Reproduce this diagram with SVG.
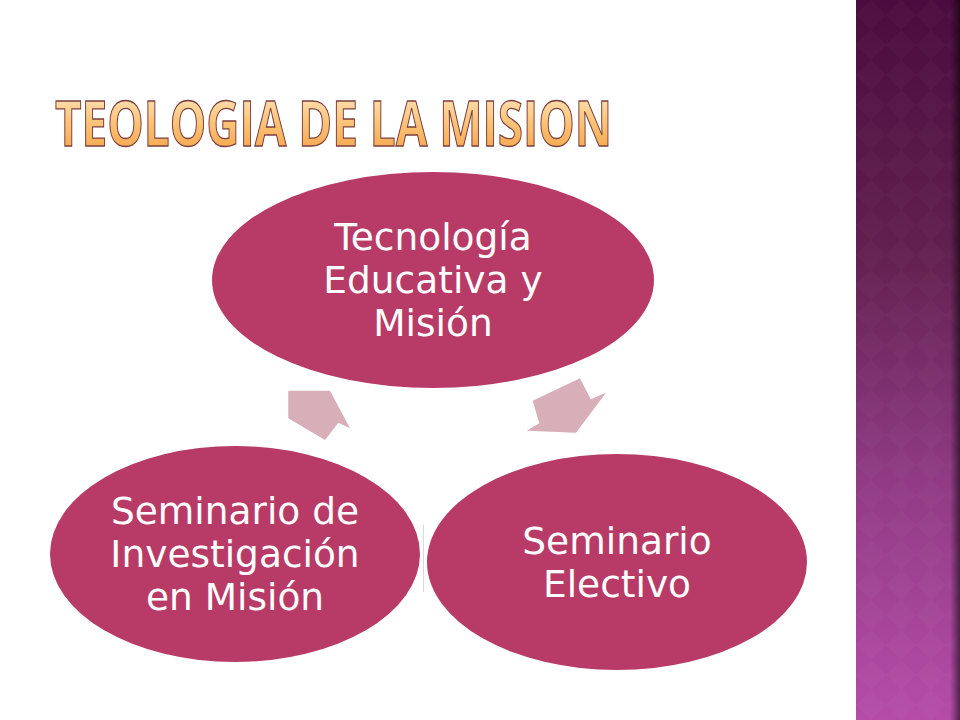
<svg xmlns="http://www.w3.org/2000/svg" width="960" height="720" viewBox="0 0 960 720">
<defs>
<linearGradient id="side" x1="0" y1="0" x2="0" y2="1">
<stop offset="0" stop-color="#4a0c3e"/>
<stop offset="0.35" stop-color="#62204f"/>
<stop offset="0.65" stop-color="#8e3a82"/>
<stop offset="1" stop-color="#b54ca8"/>
</linearGradient>
<linearGradient id="edge" x1="0" y1="0" x2="1" y2="0">
<stop offset="0" stop-color="#000" stop-opacity="0"/>
<stop offset="1" stop-color="#000" stop-opacity="0.55"/>
</linearGradient>
<pattern id="dia" width="30" height="30" patternUnits="userSpaceOnUse" x="856">
<path d="M15 0 L30 15 L15 30 L0 15 Z" fill="#ffffff" fill-opacity="0.018"/>
</pattern>
<linearGradient id="title" x1="0" y1="0" x2="0" y2="1">
<stop offset="0" stop-color="#fff3d6"/>
<stop offset="0.5" stop-color="#fbc47a"/>
<stop offset="1" stop-color="#f39a3a"/>
</linearGradient>
<style>
.node{fill:#b83b67}
.lbl{font-family:"DejaVu Sans",sans-serif;font-size:37.5px;fill:#ffffff;text-anchor:middle}
.arrow{fill:#d8aeb9}
</style>
</defs>
<rect width="960" height="720" fill="#ffffff"/>
<g id="sidebar">
<rect x="856" y="0" width="104" height="720" fill="url(#side)"/>
<rect x="856" y="0" width="104" height="720" fill="url(#dia)"/>
<rect x="950" y="0" width="10" height="720" fill="url(#edge)"/>
</g>
<text x="55" y="146" font-family="'Open Sans',sans-serif" font-weight="700" font-size="63" textLength="557" lengthAdjust="spacingAndGlyphs" fill="url(#title)" stroke="#7a3c3c" stroke-width="1.3">TEOLOGIA DE LA MISION</text>
<g id="connectors">
<polygon class="arrow" points="532.7,400.7 580,378.3 590.7,399.3 606,392.7 576,432.7 526.7,430.7 539.3,423.3"/>
<polygon class="arrow" points="288.3,390.7 330,390.7 350,428.3 338.3,422.7 325,440 288.3,418.3"/>
<line x1="423.5" y1="525" x2="423.5" y2="592" stroke="#e2d4d9" stroke-width="1"/>
</g>
<g id="node-top">
<ellipse class="node" cx="433" cy="280" rx="221" ry="108"/>
<text class="lbl" x="433" y="250">Tecnología</text>
<text class="lbl" x="433" y="293">Educativa y</text>
<text class="lbl" x="433" y="336">Misión</text>
</g>
<g id="node-left">
<ellipse class="node" cx="235" cy="554" rx="185" ry="108"/>
<text class="lbl" x="235" y="524">Seminario de</text>
<text class="lbl" x="235" y="567">Investigación</text>
<text class="lbl" x="235" y="610">en Misión</text>
</g>
<g id="node-right">
<ellipse class="node" cx="617" cy="562" rx="190" ry="108"/>
<text class="lbl" x="617" y="554">Seminario</text>
<text class="lbl" x="617" y="597">Electivo</text>
</g>
</svg>
